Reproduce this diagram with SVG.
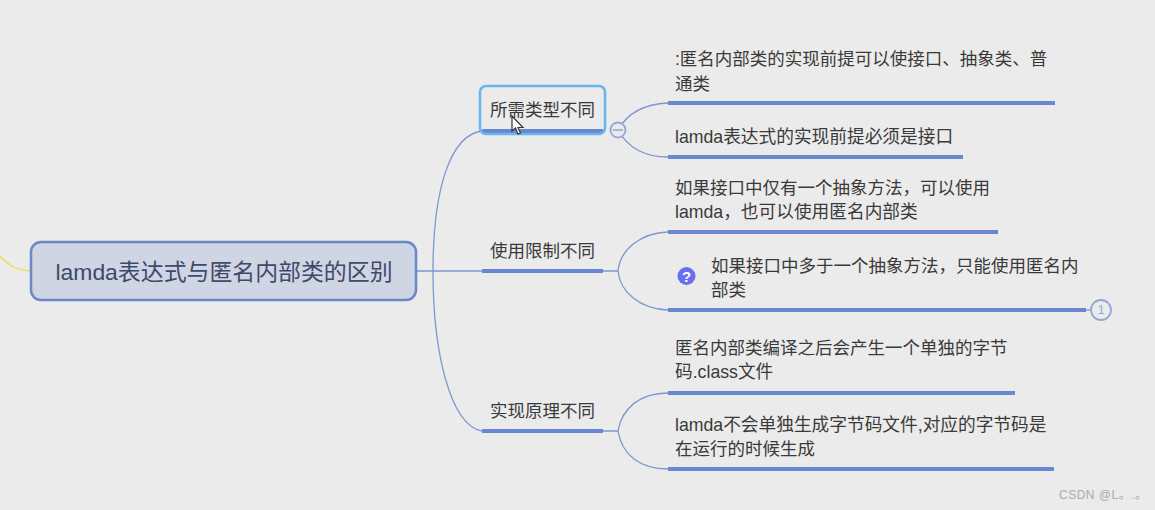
<svg xmlns="http://www.w3.org/2000/svg" width="1155" height="510" viewBox="0 0 1155 510">
<style>
text{font-family:"Liberation Sans","Noto Sans CJK SC",sans-serif;fill:#3a3a3a;font-size:17.500px}
text.l{font-size:17.700px}
.c{fill:none;stroke:#7f96d2;stroke-width:1.300}
.u{fill:none;stroke:#6a88d0;stroke-width:4}
.b{fill:#ebebeb;stroke:#93a7d8;stroke-width:1.800}
</style>
<rect width="1155" height="510" fill="#ebebeb"/>
<g id="connectors">
<path d="M0 256C8 265 16 270 30 271" fill="none" stroke="#e8e040" stroke-width="1.300"/>
<path class="c" d="M416 271H482"/>
<path class="c" d="M482 131C450 135 433 190 433 271C433 352 450 425 482 431"/>
<path class="c" d="M618 130C628 112 645 104 668 103M618 130C628 148 645 157 668 157"/>
<path class="c" d="M603 271H618C620 250 640 233 668 232M618 271C620 292 640 309 668 310"/>
<path class="c" d="M603 431H618C622 408 640 393 668 393M618 431C622 455 640 469 668 469"/>
<path class="c" d="M1086 310H1092"/>
</g>
<g id="root">
<rect x="31" y="242" width="385" height="58" rx="10" fill="#cfd5e3" stroke="#6a88c8" stroke-width="2.500"/>
<text x="55.500" y="280" style="font-size:22.900px;fill:#3d4a6b">lamda表达式与匿名内部类的区别</text>
</g>
<g id="branch1">
<path class="u" d="M482 131H603"/>
<rect x="480" y="86" width="125" height="48" rx="6" fill="none" stroke="#64b5f0" stroke-width="2.500"/>
<text x="490" y="115.500">所需类型不同</text>
<circle class="b" cx="618" cy="130" r="7.500"/>
<path d="M613 130H623" stroke="#7f96d2" stroke-width="1.300"/>
<path d="M512 116V131L515.500 128L518 134L520.500 133L518 127.500L523 127.500Z" fill="#fff" stroke="#333" stroke-width="1.200"/>
</g>
<g id="branch2">
<path class="u" d="M482 271H603"/>
<text x="490" y="256.500">使用限制不同</text>
</g>
<g id="branch3">
<path class="u" d="M482 431H603"/>
<text x="490" y="416.500">实现原理不同</text>
</g>
<g id="leaf1">
<path class="u" d="M668 103H1055"/>
<text x="675" y="64.500">:匿名内部类的实现前提可以使接口、抽象类、普</text>
<text x="675" y="89.500">通类</text>
</g>
<g id="leaf2">
<path class="u" d="M668 157H963"/>
<text class="l" x="675" y="142.500">lamda表达式的实现前提必须是接口</text>
</g>
<g id="leaf3">
<path class="u" d="M668 232H998"/>
<text x="675" y="193.500">如果接口中仅有一个抽象方法，可以使用</text>
<text class="l" x="675" y="217.500">lamda，也可以使用匿名内部类</text>
</g>
<g id="leaf4">
<path class="u" d="M668 310H1086"/>
<circle cx="686.500" cy="276" r="9" fill="#6a6ff0"/>
<text x="686.500" y="281.500" text-anchor="middle" style="font-size:15px;font-weight:bold;fill:#fff">?</text>
<text x="711" y="271.500">如果接口中多于一个抽象方法，只能使用匿名内</text>
<text x="711" y="295.500">部类</text>
<circle class="b" cx="1101" cy="310" r="10"/>
<text x="1101" y="314" text-anchor="middle" style="font-size:12px;fill:#93a7d8">1</text>
</g>
<g id="leaf5">
<path class="u" d="M668 393H1015"/>
<text x="675" y="353.500">匿名内部类编译之后会产生一个单独的字节</text>
<text class="l" x="675" y="377.500">码.class文件</text>
</g>
<g id="leaf6">
<path class="u" d="M668 469H1054"/>
<text class="l" x="675" y="430.500">lamda不会单独生成字节码文件,对应的字节码是</text>
<text x="675" y="454.500">在运行的时候生成</text>
</g>
<text x="1059" y="499" style="font-size:12px;fill:#aaa;letter-spacing:.5px">CSDN @L。.。</text>
</svg>
